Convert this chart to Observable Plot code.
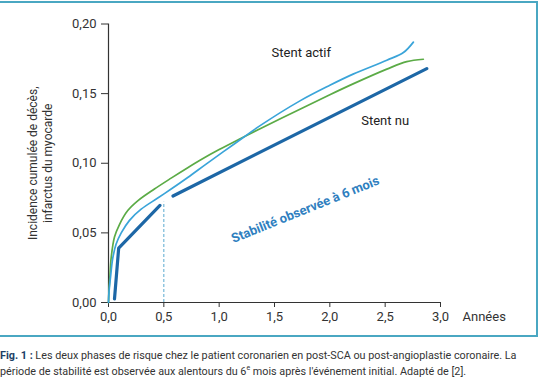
<!DOCTYPE html>
<html><head><meta charset="utf-8">
<script src="https://cdn.jsdelivr.net/npm/d3@7"></script>
<script src="https://cdn.jsdelivr.net/npm/@observablehq/plot@0.6"></script>
<style>
body{margin:0;background:#fff;font-family:Roboto,sans-serif;}
#wrap{margin-top:1px;width:538px;height:336px;box-sizing:border-box;border-top:2px solid #4aa7c2;border-right:2px solid #4aa7c2;border-bottom:2px solid #4aa7c2;overflow:hidden;}
#cap{margin-top:11px;font-size:10.8px;line-height:16px;color:#333;white-space:nowrap;}
#cap b{color:#1d3f66;}
</style></head><body>
<div id="wrap"></div>
<div id="cap"><b>Fig. 1 :</b> Les deux phases de risque chez le patient coronarien en post-SCA ou post-angioplastie coronaire. La<br>période de stabilité est observée aux alentours du 6<sup style="font-size:7px;line-height:0">e</sup> mois après l'événement initial. Adapté de [2].</div>
<script>
const xTicks = [0, 0.5, 1, 1.5, 2, 2.5, 3];
const yTicks = [0, 0.05, 0.10, 0.15, 0.20];

const actifX = [0, 0.005, 0.018, 0.039, 0.069, 0.115, 0.19, 0.295, 0.445, 0.566, 0.716, 0.882, 1.13, 1.37, 1.73, 2.0, 2.21, 2.515, 2.665, 2.755];
const actifY = [0, 0.008, 0.018, 0.032, 0.042, 0.050, 0.059, 0.067, 0.075, 0.0815, 0.0898, 0.0994, 0.1135, 0.127, 0.1448, 0.156, 0.164, 0.174, 0.1795, 0.187];

const nuX = [0, 0.004, 0.012, 0.024, 0.054, 0.099, 0.174, 0.264, 0.415, 0.566, 0.716, 0.85, 1.0, 1.19, 1.37, 1.73, 2.0, 2.21, 2.515, 2.695, 2.845];
const nuY = [0, 0.008, 0.018, 0.032, 0.047, 0.056, 0.066, 0.073, 0.0815, 0.0893, 0.0968, 0.1032, 0.1098, 0.1176, 0.1248, 0.1388, 0.1492, 0.157, 0.1676, 0.173, 0.1747];

const phaseX = [0.054, 0.092, 0.465, 0.583, 2.876];
const phaseY = [0.0025, 0.039, 0.0697, 0.0765, 0.168];
const phaseSeg = [1, 1, 1, 2, 2];

const stabilityX = [0.5];
const stabilityTop = [0.072];

const labels = ["Stent actif", "Stent nu", "Stabilité observée à 6 mois"];
const labelX = [1.742, 2.50, 1.778];
const labelY = [0.179, 0.1305, 0.0667];

const actif = actifX.map((x, i) => ({x, y: actifY[i]}));
const nu = nuX.map((x, i) => ({x, y: nuY[i]}));
const phase = phaseX.map((x, i) => ({x, y: phaseY[i], s: phaseSeg[i]}));

const fmtX = d => d.toFixed(1).replace(".", ",");
const fmtY = d => d.toFixed(2).replace(".", ",");

const chart = Plot.plot({
  width: 536, height: 332,
  marginLeft: 108, marginRight: 96, marginTop: 20.5, marginBottom: 33,
  style: {fontFamily: "Roboto", fontSize: "13px", color: "#333", background: "white"},
  x: {domain: [0, 3]},
  y: {domain: [0, 0.2]},
  marks: [
    Plot.axisX({ticks: xTicks, tickFormat: fmtX, tickSize: 5, tickPadding: 4, label: null, stroke: "#333"}),
    Plot.axisY({ticks: yTicks, tickFormat: fmtY, tickSize: 7, tickPadding: 5, label: null, stroke: "#333"}),
    Plot.ruleY([0], {stroke: "#333", strokeWidth: 1.2}),
    Plot.ruleX([0], {stroke: "#333", strokeWidth: 1.2}),
    Plot.ruleX(stabilityX, {x: d => d, y1: 0, y2: stabilityTop[0], stroke: "#5aa9cf", strokeWidth: 1, strokeDasharray: "3,2"}),
    Plot.line(nu, {x: "x", y: "y", stroke: "#5bab46", strokeWidth: 1.7, curve: "catmull-rom"}),
    Plot.line(actif, {x: "x", y: "y", stroke: "#3aa4d9", strokeWidth: 1.7, curve: "catmull-rom"}),
    Plot.line(phase, {x: "x", y: "y", z: "s", stroke: "#1d67a6", strokeWidth: 3.2}),
    Plot.text([labels[0], labels[1]], {x: (d, i) => labelX[i], y: (d, i) => labelY[i], text: d => d, fill: "#222", fontSize: 13}),
    Plot.text([labels[2]], {x: labelX[2], y: labelY[2], text: d => d, fill: "#2f7fc0", fontSize: 13, fontWeight: "bold", rotate: -22}),
    Plot.text(["Années"], {x: 3, y: 0, text: d => d, dx: 22, dy: 14, textAnchor: "start", fill: "#333", fontSize: 13}),
    Plot.text(["Incidence cumulée de décès,\ninfarctus du myocarde"], {frameAnchor: "left", text: d => d, rotate: -90, dx: -68.5, textAnchor: "middle", lineAnchor: "middle", lineHeight: 1.25, fill: "#333", fontSize: 12})
  ]
});
document.getElementById("wrap").appendChild(chart);
</script>
</body></html>
